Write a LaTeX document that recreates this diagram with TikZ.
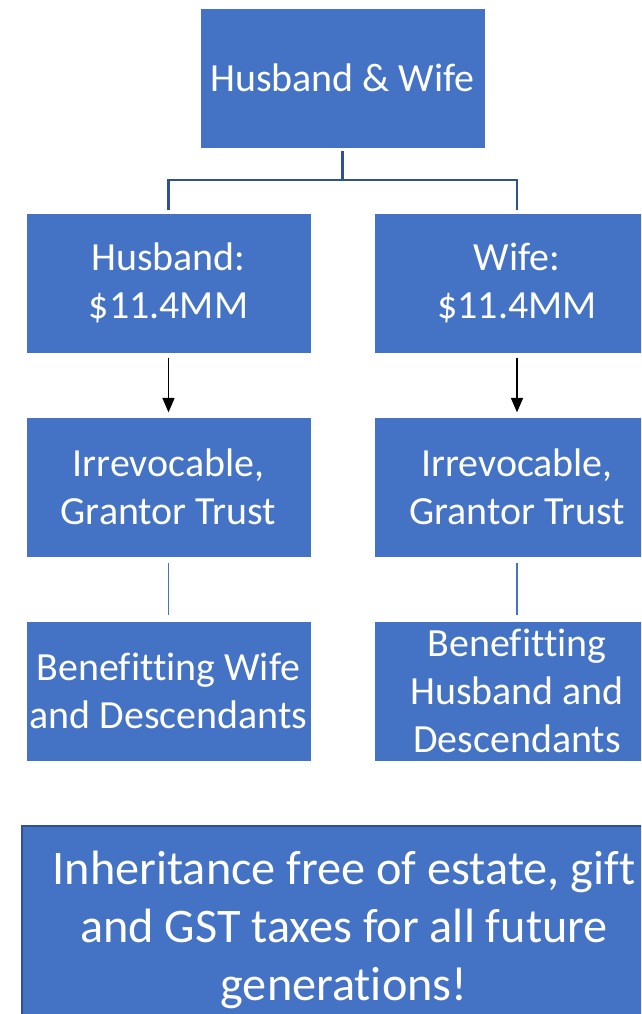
\documentclass[tikz,border=0pt]{standalone}
\usepackage{fontspec}
\setmainfont{Carlito}[Ligatures=NoCommon]
\usetikzlibrary{arrows.meta}

\definecolor{boxblue}{HTML}{4472C4}
\definecolor{edgeblue}{HTML}{2F528F}

\tikzset{
  plan/.style={rectangle, fill=boxblue, draw=white, line width=0.6pt,
    text=white, align=center, minimum width=7.125cm, minimum height=3.5cm,
    inner sep=0pt, font=\fontsize{28.4}{34.2}\selectfont},
  summary/.style={plan, draw=edgeblue, line width=1pt,
    minimum width=16.1cm, minimum height=5.2cm,
    font=\fontsize{34.3}{41.2}\selectfont},
  tree/.style={edgeblue, line width=1.5pt},
  gift/.style={black, line width=1.1pt, -{Triangle[length=0.36cm,width=0.3cm]}},
  link/.style={boxblue, line width=1pt}
}

\begin{document}
\begin{tikzpicture}[x=0.025cm, y=-0.025cm]
\clip (0,0) rectangle (641,1014);
\fill[white] (0,0) rectangle (641,1014);

\node[plan] (couple) at (342.5,78) {Husband \& Wife};

\node[plan] (husband) at (168.5,283) {Husband:\\\$11.4MM};
\node[plan] (wife) at (517,283) {Wife:\\\$11.4MM};

\node[plan] (htrust) at (168.5,487) {Irrevocable,\\Grantor Trust};
\node[plan] (wtrust) at (517,487) {Irrevocable,\\Grantor Trust};

\node[plan] (hbenef) at (168.5,691) {Benefitting Wife\\and Descendants};
\node[plan] (wbenef) at (517,691) {Benefitting\\Husband and\\Descendants};

\node[summary] (result) at (344,930) {Inheritance free of estate, gift\\and GST taxes for all future\\generations!};

% split of the couple
\draw[tree, shorten <=2pt, shorten >=2pt] (couple.south) -- ++(0,32) -| (husband.north);
\draw[tree, shorten <=2pt, shorten >=2pt] (couple.south) -- ++(0,32) -| (wife.north);

% exemptions into the trusts
\draw[gift, shorten <=3pt, shorten >=3pt] (husband) -- (htrust);
\draw[gift, shorten <=3pt, shorten >=3pt] (wife) -- (wtrust);

\draw[link, shorten <=4pt, shorten >=4pt] (htrust) -- (hbenef);
\draw[link, shorten <=4pt, shorten >=4pt] (wtrust) -- (wbenef);
\end{tikzpicture}
\end{document}
